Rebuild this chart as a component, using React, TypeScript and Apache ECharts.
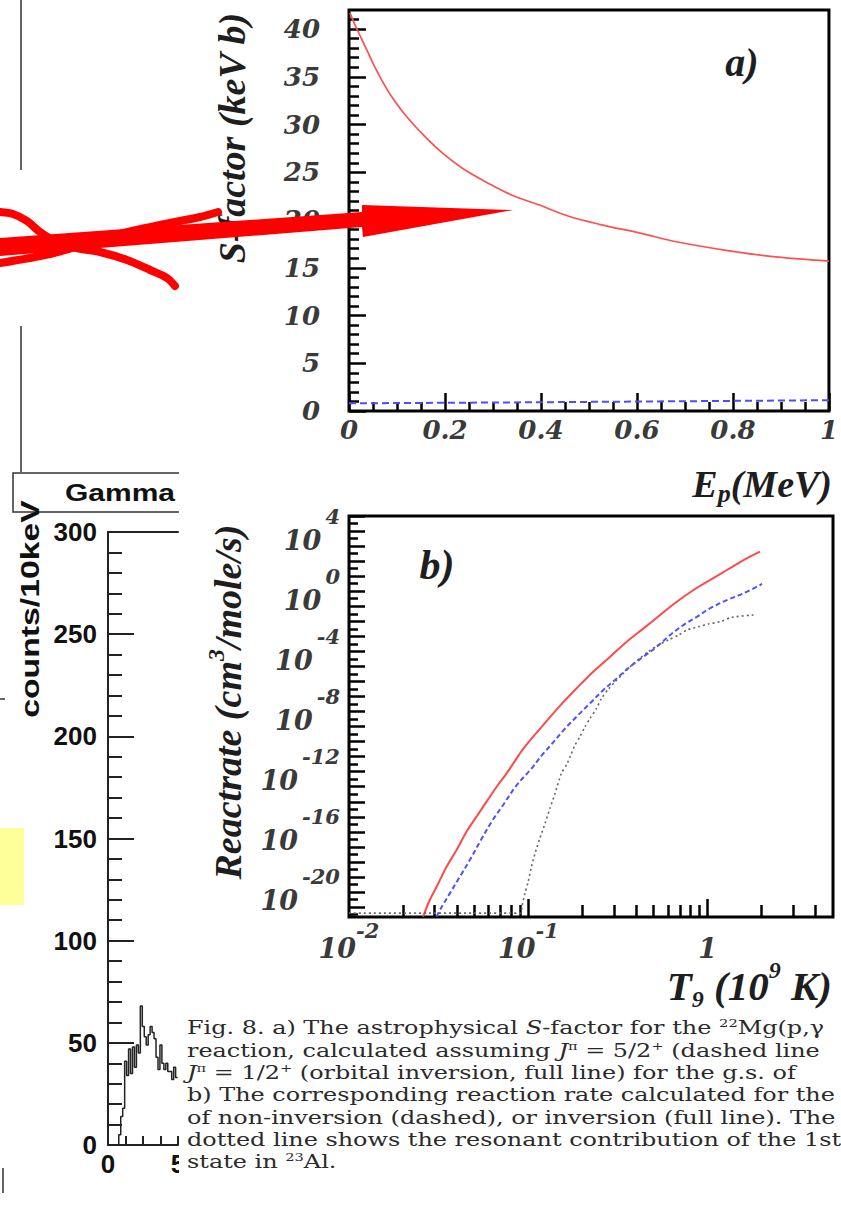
import React, { useEffect, useRef } from "react";
import * as echarts from "echarts";

// ---- (a) astrophysical S-factor (keV b) vs proton energy (MeV) ----
const sEnergyInversion = [0.002, 0.012, 0.026, 0.04, 0.055, 0.07, 0.088, 0.119, 0.161, 0.195, 0.237, 0.292, 0.34, 0.395, 0.458, 0.527, 0.609, 0.685, 0.789, 0.878, 1.0];
const sFactorInversion = [41.7, 40.5, 39.0, 37.5, 35.9, 34.5, 33.0, 30.9, 28.6, 27.0, 25.4, 23.8, 22.6, 21.6, 20.4, 19.5, 18.6, 17.7, 16.8, 16.2, 15.7];
const sEnergyNonInversion = [0.0, 0.2, 0.4, 0.6, 0.8, 1.0];
const sFactorNonInversion = [0.8, 0.86, 0.92, 0.99, 1.06, 1.13];
const sFactorMajorTicks = [0, 5, 10, 15, 20, 25, 30, 35, 40];

// ---- (b) reaction rate, log10(cm^3/mole/s), vs T9 ----
const t9Inversion = [0.0259, 0.0282, 0.0308, 0.035, 0.0398, 0.0452, 0.0514, 0.0585, 0.0666, 0.0757, 0.0861, 0.0957, 0.121, 0.15, 0.186, 0.23, 0.286, 0.354, 0.439, 0.543, 0.673, 0.834, 1.03, 1.28, 1.585, 1.96];
const logRateInversion = [-22.64, -21.53, -20.65, -19.32, -18.21, -16.99, -15.99, -14.99, -14.0, -13.11, -12.11, -11.34, -9.9, -8.62, -7.45, -6.35, -5.35, -4.36, -3.47, -2.58, -1.7, -0.92, -0.26, 0.41, 1.07, 1.63];
const t9NonInversion = [0.0308, 0.0321, 0.0365, 0.0415, 0.0472, 0.0537, 0.0624, 0.0724, 0.0861, 0.104, 0.121, 0.132, 0.157, 0.186, 0.221, 0.262, 0.311, 0.369, 0.439, 0.52, 0.618, 0.733, 0.871, 1.03, 1.28, 1.585, 2.01];
const logRateNonInversion = [-22.64, -22.2, -21.09, -19.98, -18.87, -17.66, -16.33, -15.21, -13.89, -12.8, -11.8, -11.3, -10.25, -9.34, -8.45, -7.57, -6.8, -6.02, -5.35, -4.69, -3.91, -3.25, -2.7, -2.14, -1.59, -1.14, -0.52];
const t9Resonant = [0.01, 0.0905, 0.092, 0.0957, 0.0998, 0.104, 0.109, 0.116, 0.124, 0.132, 0.141, 0.153, 0.164, 0.171, 0.182, 0.194, 0.207, 0.221, 0.24, 0.256, 0.279, 0.305, 0.339, 0.378, 0.418, 0.467, 0.531, 0.604, 0.69, 0.766, 0.89, 1.01, 1.17, 1.36, 1.8];
const logRateResonant = [-22.4, -22.4, -21.98, -21.09, -20.32, -19.32, -18.43, -17.43, -16.43, -15.43, -14.44, -13.1, -12.5, -12.0, -11.23, -10.67, -10.01, -9.45, -8.79, -8.12, -7.52, -7.02, -6.46, -5.91, -5.46, -5.02, -4.58, -4.24, -3.91, -3.58, -3.36, -3.18, -3.03, -2.74, -2.58];
const rateLabelExponents = [4, 0, -4, -8, -12, -16, -20];
const t9LabelExponents = [-2, -1, 0];
const t9MinorTicks = [0.02, 0.03, 0.04, 0.05, 0.06, 0.07, 0.08, 0.09, 0.2, 0.3, 0.4, 0.5, 0.6, 0.7, 0.8, 0.9, 2, 3, 4];
const t9Max = 5;
const logRateMin = -22.66;
const logRateMax = 4;

// ---- gamma spectrum (counts / 10 keV) ----
const histFirstEdge = 0.77;
const histBinWidth = 0.14;
const histCounts = [5, 14, 18, 41, 34, 47, 35, 48, 38, 49, 45, 68, 58, 53, 49, 54, 58, 55, 52, 43, 37, 49, 40, 37, 40, 36, 36, 32, 38, 33];
const spectrumTickValues = [1.25, 2.5, 3.75, 5];
const spectrumLabelValues = [0, 5];

// ---- caption ----
const captionLines = [
  "{n|Fig. 8. a) The astrophysical }{i|S}{n|-factor for the }{u|22}{n|Mg(p,γ}",
  "{n|reaction, calculated assuming }{i|J}{u|π}{n| = 5/2}{u|+}{n| (dashed line}",
  "{i|J}{u|π}{n| = 1/2}{u|+}{n| (orbital inversion, full line) for the g.s. of}",
  "{n|b) The corresponding reaction rate calculated for the}",
  "{n|of non-inversion (dashed), or inversion (full line). The}",
  "{n|dotted line shows the resonant contribution of the 1st}",
  "{n|state in }{u|23}{n|Al.}",
];

const zip = (xs: number[], ys: number[]) => xs.map((x, i) => [x, ys[i]]);
const zipLogX = (xs: number[], ys: number[]) => xs.map((x, i) => [Math.log10(x), ys[i]]);

function buildOption(): any {
  const bi = { fontFamily: "DejaVu Serif", fontStyle: "italic", fontWeight: "bold" };
  const labelColor = "#3a3a3a";
  const tickStyle = { color: "#000", width: 2.5 };
  const spectrumLine = { color: "#222", width: 2 };
  const sansBold = { fontFamily: "Liberation Sans", fontWeight: "bold", fontSize: 26, color: "#111" };

  const sMinorTicks: number[] = [];
  for (let v = 1; v <= 41; v++) if (v % 5 !== 0) sMinorTicks.push(v);
  const rateMajorTicks: number[] = [];
  const rateMinorTicks: number[] = [];
  for (let e = -22; e <= 4; e++) rateMajorTicks.push(e);
  for (let e = -22.5; e < 4; e += 1) rateMinorTicks.push(e);

  const histData: number[][] = [[0, 0]];
  histCounts.forEach((c, k) => histData.push([histFirstEdge + k * histBinWidth, c]));
  histData.push([histFirstEdge + histCounts.length * histBinWidth, histCounts[histCounts.length - 1]]);

  const serifTitle = { fontFamily: "Liberation Serif", fontStyle: "italic", fontWeight: "bold", fill: "#1e1e1e" };

  const captionRich = {
    n: { fontFamily: "DejaVu Serif", fontSize: 18, lineHeight: 20, fill: "#2a2a2a" },
    i: { fontFamily: "DejaVu Serif", fontStyle: "italic", fontSize: 18, lineHeight: 20, fill: "#2a2a2a" },
    u: { fontFamily: "DejaVu Serif", fontSize: 11, lineHeight: 11, verticalAlign: "top", fill: "#2a2a2a" },
  };

  const graphics: any[] = [
    // white sheet covering the right part of the spectrum
    { type: "rect", z: 1, shape: { x: 179, y: 460, width: 662, height: 752 }, style: { fill: "#ffffff" } },
    // spectrum header box
    { type: "rect", z: 0, shape: { x: 13, y: 473, width: 200, height: 39 }, style: { fill: "#ffffff", stroke: "#333", lineWidth: 1.5 } },
    { type: "text", z: 0, x: 65, y: 493, scaleX: 1.25, style: { text: "Gamma", fontFamily: "Liberation Sans", fontWeight: "bold", fontSize: 24, fill: "#111", textAlign: "left", textVerticalAlign: "middle" } },
    { type: "text", z: 0, x: 30, y: 609, rotation: Math.PI / 2, scaleX: 1.35, style: { text: "counts/10keV", fontFamily: "Liberation Sans", fontWeight: "bold", fontSize: 25, fill: "#111", textAlign: "center", textVerticalAlign: "middle" } },
    // page edge marks
    { type: "line", z: 0, shape: { x1: 21, y1: 0, x2: 21, y2: 170 }, style: { stroke: "#333", lineWidth: 1.5 } },
    { type: "line", z: 0, shape: { x1: 21, y1: 326, x2: 21, y2: 472 }, style: { stroke: "#333", lineWidth: 1.5 } },
    { type: "line", z: 0, shape: { x1: 0, y1: 699, x2: 5, y2: 699 }, style: { stroke: "#333", lineWidth: 1.5 } },
    { type: "line", z: 0, shape: { x1: 3, y1: 1168, x2: 3, y2: 1193 }, style: { stroke: "#333", lineWidth: 1.5 } },
    { type: "rect", z: 0, shape: { x: 0, y: 828, width: 24, height: 77 }, style: { fill: "#ffff99" } },

    // panel (a) texts
    { type: "text", z: 10, x: 232, y: 138, rotation: Math.PI / 2, style: { ...serifTitle, text: "S-factor (keV b)", fontSize: 38, textAlign: "center", textVerticalAlign: "middle" } },
    { type: "text", z: 10, x: 742, y: 62, style: { ...serifTitle, text: "a)", fontSize: 40, textAlign: "center", textVerticalAlign: "middle" } },
    {
      type: "text", z: 10, x: 832, y: 484,
      style: {
        text: "{b|E}{s|p}{b|(MeV)}", textAlign: "right", textVerticalAlign: "middle", fill: "#1e1e1e",
        rich: {
          b: { ...serifTitle, fontSize: 38, lineHeight: 44 },
          s: { ...serifTitle, fontSize: 26, lineHeight: 26, padding: [18, 0, 0, 0], verticalAlign: "top" },
        },
      },
    },

    // panel (b) texts
    {
      type: "text", z: 10, x: 228, y: 702, rotation: Math.PI / 2,
      style: {
        text: "{b|Reactrate (cm}{u|3}{b|/mole/s)}", textAlign: "center", textVerticalAlign: "middle", fill: "#1e1e1e",
        rich: {
          b: { ...serifTitle, fontSize: 38, lineHeight: 48 },
          u: { ...serifTitle, fontSize: 24, lineHeight: 24, verticalAlign: "top" },
        },
      },
    },
    { type: "text", z: 10, x: 437, y: 565, style: { ...serifTitle, text: "b)", fontSize: 42, textAlign: "center", textVerticalAlign: "middle" } },
    {
      type: "text", z: 10, x: 832, y: 986,
      style: {
        text: "{b|T}{s|9}{b| (10}{u|9}{b| K)}", textAlign: "right", textVerticalAlign: "middle", fill: "#1e1e1e",
        rich: {
          b: { ...serifTitle, fontSize: 41, lineHeight: 57 },
          s: { ...serifTitle, fontSize: 24, lineHeight: 24, padding: [29, 0, 0, 0], verticalAlign: "top" },
          u: { ...serifTitle, fontSize: 24, lineHeight: 24, verticalAlign: "top" },
        },
      },
    },
  ];

  captionLines.forEach((line, i) => {
    graphics.push({
      type: "text", z: 10, x: 187, y: 1028 + i * 22.3, scaleX: 1.33,
      style: { text: line, textAlign: "left", textVerticalAlign: "middle", fill: "#2a2a2a", rich: captionRich },
    });
  });

  // hand-drawn red marks on top
  graphics.push(
    {
      type: "polyline", z: 100,
      shape: { points: [[0, 212], [13, 214], [27, 221], [40, 232], [57, 242], [77, 248], [100, 252], [127, 260], [150, 270], [167, 278], [175, 286]], smooth: 0.3 },
      style: { stroke: "#ff0000", lineWidth: 8, lineCap: "round", lineJoin: "round", fill: null },
    },
    {
      type: "polyline", z: 100,
      shape: { points: [[0, 263], [50, 254], [90, 243], [127, 232], [160, 225], [180, 221], [200, 217], [218, 212]], smooth: 0.3 },
      style: { stroke: "#ff0000", lineWidth: 8, lineCap: "round", lineJoin: "round", fill: null },
    },
    {
      type: "polygon", z: 100,
      shape: { points: [[0, 238], [362, 212], [362, 205], [513, 210], [363, 237], [362, 227], [0, 256]] },
      style: { fill: "#ff0000" },
    }
  );

  // tick-label tokens: each glyph sits at the line middle shifted by (padTop - padBottom) / 2,
  // so the mantissa "10" drops below the tick and the exponent stays level with it
  const xRich = {
    b: { ...bi, fontSize: 27, lineHeight: 27, padding: [30, 0, 0, 0], color: labelColor },
    e: { ...bi, fontSize: 21, lineHeight: 21, padding: [0, 0, 6, 0], color: labelColor },
  };
  const yRich = {
    b: { ...bi, fontSize: 27, lineHeight: 27, padding: [24, 4, 0, 0], color: labelColor },
    e: { ...bi, fontSize: 21, lineHeight: 21, padding: [0, 0, 24, 0], color: labelColor },
  };

  const hidden = { show: false };

  return {
    animation: false,
    backgroundColor: "#ffffff",
    grid: [
      { left: 349, top: 10, width: 483, height: 401, show: true, borderColor: "#000", borderWidth: 3, backgroundColor: "transparent", z: 3 },
      { left: 349, top: 516, width: 484, height: 401, show: true, borderColor: "#000", borderWidth: 3, backgroundColor: "transparent", z: 3 },
      { left: 108, top: 532, width: 70, height: 613, show: false },
    ],
    xAxis: [
      {
        gridIndex: 0, type: "value", min: 0, max: 1, interval: 0.2, position: "bottom", z: 4,
        axisLine: { show: false, onZero: false }, splitLine: hidden,
        axisTick: { show: true, inside: true, length: 18, lineStyle: tickStyle },
        minorTick: { show: true, splitNumber: 4, length: 9, lineStyle: tickStyle },
        axisLabel: { ...bi, fontSize: 26, color: labelColor, margin: 6, showMinLabel: true, showMaxLabel: true, formatter: (v: number) => String(Math.round(v * 10) / 10) },
      },
      {
        gridIndex: 1, type: "value", min: -2, max: Math.log10(t9Max), position: "bottom", z: 4,
        axisLine: { show: false, onZero: false }, splitLine: hidden,
        axisTick: { show: true, inside: true, length: 18, customValues: [-1, 0], lineStyle: tickStyle },
        axisLabel: {
          customValues: t9LabelExponents, margin: 3, rich: xRich, showMinLabel: true, showMaxLabel: true,
          formatter: (v: number) => (Math.round(v) === 0 ? "{b|1}" : `{b|10}{e|${Math.round(v)}}`),
        },
      },
      {
        gridIndex: 1, type: "value", min: -2, max: Math.log10(t9Max), position: "bottom", z: 4,
        axisLine: { show: false, onZero: false }, splitLine: hidden, axisLabel: hidden,
        axisTick: { show: true, inside: true, length: 12, customValues: t9MinorTicks.map((t) => Math.log10(t)), lineStyle: tickStyle },
      },
      {
        gridIndex: 2, type: "value", min: 0, max: 5, position: "bottom", z: 0,
        axisLine: { show: true, onZero: false, lineStyle: spectrumLine }, splitLine: hidden,
        axisTick: { show: true, inside: true, length: 9, customValues: spectrumTickValues, lineStyle: spectrumLine },
        axisLabel: { ...sansBold, customValues: spectrumLabelValues, margin: 6, showMinLabel: true, showMaxLabel: true },
      },
      {
        gridIndex: 2, type: "value", min: 0, max: 5, position: "top", z: 0,
        axisLine: { show: true, onZero: false, lineStyle: spectrumLine }, splitLine: hidden,
        axisTick: hidden, axisLabel: hidden,
      },
    ],
    yAxis: [
      {
        gridIndex: 0, type: "value", min: 0, max: 42, position: "left", z: 4,
        axisLine: { show: false, onZero: false }, splitLine: hidden,
        axisTick: { show: true, inside: true, length: 17, customValues: sFactorMajorTicks, lineStyle: tickStyle },
        axisLabel: { ...bi, fontSize: 26, color: labelColor, margin: 29, customValues: sFactorMajorTicks, showMinLabel: true, showMaxLabel: true },
      },
      {
        gridIndex: 0, type: "value", min: 0, max: 42, position: "left", z: 4,
        axisLine: { show: false, onZero: false }, splitLine: hidden, axisLabel: hidden,
        axisTick: { show: true, inside: true, length: 10, customValues: sMinorTicks, lineStyle: tickStyle },
      },
      {
        gridIndex: 1, type: "value", min: logRateMin, max: logRateMax, position: "left", z: 4,
        axisLine: { show: false, onZero: false }, splitLine: hidden,
        axisTick: { show: true, inside: true, length: 16, customValues: rateMajorTicks, lineStyle: tickStyle },
        axisLabel: {
          customValues: rateLabelExponents, margin: 9, rich: yRich, padding: [24, 0, 0, 0],
          showMinLabel: true, showMaxLabel: true, hideOverlap: false,
          formatter: (v: number) => `{b|10}{e|${Math.round(v)}}`,
        },
      },
      {
        gridIndex: 1, type: "value", min: logRateMin, max: logRateMax, position: "left", z: 4,
        axisLine: { show: false, onZero: false }, splitLine: hidden, axisLabel: hidden,
        axisTick: { show: true, inside: true, length: 9, customValues: rateMinorTicks, lineStyle: tickStyle },
      },
      {
        gridIndex: 2, type: "value", min: 0, max: 300, interval: 50, position: "left", z: 0,
        axisLine: { show: true, onZero: false, lineStyle: spectrumLine }, splitLine: hidden,
        axisTick: { show: true, inside: true, length: 26, lineStyle: spectrumLine },
        minorTick: { show: true, splitNumber: 5, length: 14, lineStyle: spectrumLine },
        axisLabel: { ...sansBold, margin: 11, showMinLabel: true, showMaxLabel: true },
      },
    ],
    series: [
      {
        type: "line", xAxisIndex: 0, yAxisIndex: 0, z: 5, showSymbol: false, smooth: 0.35,
        data: zip(sEnergyInversion, sFactorInversion),
        lineStyle: { color: "#ff4f4f", width: 1.7 },
      },
      {
        type: "line", xAxisIndex: 0, yAxisIndex: 0, z: 5, showSymbol: false,
        data: zip(sEnergyNonInversion, sFactorNonInversion),
        lineStyle: { color: "#4d4dff", width: 2, type: [7, 4] },
      },
      {
        type: "line", xAxisIndex: 1, yAxisIndex: 2, z: 5, showSymbol: false, smooth: 0.35,
        data: zipLogX(t9Inversion, logRateInversion),
        lineStyle: { color: "#ff4a4a", width: 2 },
      },
      {
        type: "line", xAxisIndex: 1, yAxisIndex: 2, z: 5, showSymbol: false, smooth: 0.35,
        data: zipLogX(t9NonInversion, logRateNonInversion),
        lineStyle: { color: "#5050ff", width: 2, type: [5, 3] },
      },
      {
        type: "line", xAxisIndex: 1, yAxisIndex: 2, z: 5, showSymbol: false, smooth: 0.25,
        data: zipLogX(t9Resonant, logRateResonant),
        lineStyle: { color: "#666666", width: 1.6, type: [2, 3] },
      },
      {
        type: "line", xAxisIndex: 3, yAxisIndex: 4, z: 2, showSymbol: false, step: "end",
        data: histData,
        lineStyle: { color: "#222", width: 1.5 },
      },
    ],
    graphic: { elements: graphics },
  };
}

export default function App() {
  const ref = useRef<HTMLDivElement>(null);
  useEffect(() => {
    document.body.style.margin = "0";
    document.body.style.overflow = "hidden";
    const chart = echarts.init(ref.current as HTMLDivElement, undefined, { renderer: "svg", width: 841, height: 1212 });
    chart.setOption(buildOption());
    return () => chart.dispose();
  }, []);
  return <div ref={ref} style={{ width: 841, height: 1212 }} />;
}
